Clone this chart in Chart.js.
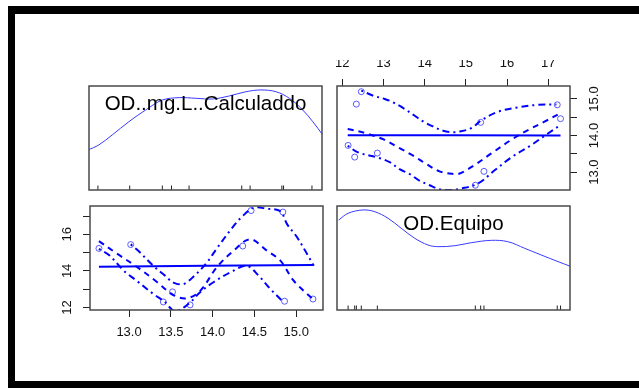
<!DOCTYPE html>
<html><head><meta charset="utf-8">
<script src="https://cdn.jsdelivr.net/npm/chart.js@4.4.1/dist/chart.umd.min.js"></script>
<style>
html,body{margin:0;padding:0;background:#fff;width:639px;height:388px;overflow:hidden;}
#frame{position:absolute;left:8px;top:6px;width:631px;height:382px;box-sizing:border-box;border-left:7px solid #000;border-top:8px solid #000;border-bottom:7px solid #000;}
canvas{position:absolute;left:0;top:0;}
</style></head><body>
<div id="frame"></div>
<canvas id="tl" width="639" height="388"></canvas>
<canvas id="tr" width="639" height="388"></canvas>
<canvas id="bl" width="639" height="388"></canvas>
<canvas id="br" width="639" height="388"></canvas>
<script>
// ---------- data ----------
const varNames = ['OD..mg.L..Calculaddo', 'OD.Equipo'];
const odCalculado = [12.64, 13.02, 13.52, 13.41, 13.73, 14.36, 14.46, 14.84, 14.86, 15.20];
const odEquipo    = [15.23, 15.44, 12.85, 12.30, 12.14, 15.36, 17.30, 17.22, 12.34, 12.46];

// density estimates (relative height) on the diagonal
const densCalcX = [12.52,12.65,12.81,13.01,13.21,13.41,13.61,13.81,14.01,14.21,14.41,14.59,14.77,14.93,15.09,15.21,15.33];
const densCalcY = [0.385,0.433,0.529,0.657,0.769,0.865,0.888,0.882,0.875,0.904,0.945,0.962,0.945,0.882,0.769,0.657,0.529];
const densEqX = [11.91,12.14,12.50,12.79,13.11,13.43,13.76,14.08,14.32,14.73,15.13,15.62,16.02,16.43,16.83,17.24,17.56];
const densEqY = [0.865,0.930,0.962,0.945,0.882,0.786,0.689,0.625,0.609,0.618,0.647,0.670,0.657,0.593,0.529,0.465,0.417];

// top-right panel: x = OD.Equipo, y = OD calculado
const regTRX = [12.13, 17.30];
const regTRY = [14.01, 14.00];
const smoothTRX = [12.13,12.58,13.03,13.35,13.72,14.04,14.36,14.69,14.85,15.21,15.62,16.10,16.51,16.91,17.30];
const smoothTRY = [14.18,14.06,13.88,13.68,13.45,13.22,13.02,12.95,12.96,13.19,13.51,13.88,14.15,14.38,14.61];
const upperTRX = [12.46,12.75,13.03,13.23,13.51,13.76,14.00,14.20,14.45,14.69,14.81,15.13,15.38,15.78,16.27,16.75,17.20];
const upperTRY = [15.23,15.09,15.00,14.91,14.73,14.54,14.36,14.25,14.13,14.09,14.10,14.20,14.42,14.65,14.77,14.84,14.85];
const lowerTRX = [12.13,12.38,12.91,13.15,13.39,13.63,13.88,14.12,14.36,14.61,14.89,15.30,15.70,16.10,16.59,16.91,17.30];
const lowerTRY = [13.72,13.54,13.38,13.27,13.08,12.95,12.76,12.64,12.53,12.51,12.55,12.69,13.05,13.40,13.74,13.99,14.29];

// bottom-left panel: x = OD calculado, y = OD.Equipo
const regBLX = [12.64, 15.20];
const regBLY = [14.23, 14.32];
const smoothBLX = [12.64,12.85,13.09,13.33,13.53,13.69,13.85,14.05,14.25,14.45,14.65,14.81,14.97,15.20];
const smoothBLY = [15.63,14.96,14.23,13.41,12.68,12.50,12.90,14.20,15.10,15.73,15.10,14.56,13.46,12.45];
const upperBLX = [13.02,13.11,13.29,13.43,13.53,13.65,13.77,13.93,14.05,14.23,14.35,14.49,14.65,14.81,14.89,15.01,15.13,15.21];
const upperBLY = [15.45,15.10,14.28,13.74,13.36,13.28,13.68,14.45,15.23,16.33,16.96,17.45,17.40,17.26,16.56,15.84,14.92,14.28];
const lowerBLX = [12.64,12.76,12.94,13.08,13.29,13.42,13.55,13.71,13.85,14.01,14.25,14.41,14.55,14.69,14.83];
const lowerBLY = [15.20,14.87,14.00,13.50,12.74,12.33,11.80,12.19,12.83,13.38,14.01,14.28,13.74,13.01,12.37];

// axis ticks
const ticksEqTop = [12, 13, 14, 15, 16, 17];
const ticksCalcRight = [13.0, 13.5, 14.0, 14.5, 15.0];
const labelsCalcRight = ['13.0', '', '14.0', '', '15.0'];
const ticksEqLeft = [12, 13, 14, 15, 16, 17];
const labelsEqLeft = ['12', '', '14', '', '16', ''];
const ticksCalcBottom = [13.0, 13.5, 14.0, 14.5, 15.0];
const labelsCalcBottom = ['13.0', '13.5', '14.0', '14.5', '15.0'];

// ---------- helpers ----------
const FONT = "'Liberation Sans', Arial, sans-serif";
Chart.defaults.font.family = FONT;
Chart.defaults.font.size = 13;
Chart.defaults.color = '#111';

const BLUE = '#0000ff';
const PT = 'rgba(40,40,255,0.75)';
const zip = (xs, ys) => xs.map((x, i) => ({x, y: ys[i]}));

function hidden(min, max) { return {type: 'linear', display: false, min, max}; }
function shown(pos, min, max, vals, labels, size, pad) {
  const vertical = pos === 'left' || pos === 'right';
  return {
    type: 'linear', position: pos, min, max,
    afterBuildTicks: s => { s.ticks = vals.map(v => ({value: v})); },
    afterFit: s => { if (vertical) s.width = size; else s.height = size; },
    grid: {drawOnChartArea: false, drawTicks: true, tickLength: 7, tickColor: '#222', lineWidth: 1},
    border: {display: false},
    ticks: {
      autoSkip: false, padding: pad,
      minRotation: vertical ? 90 : 0, maxRotation: vertical ? 90 : 0,
      crossAlign: vertical ? 'center' : 'near',
      callback: (v, i) => labels[i], color: '#111', font: {size: 13}
    }
  };
}
const boxPlugin = {
  id: 'box',
  afterDatasetsDraw(chart, args, opts) {
    const a = chart.chartArea, ctx = chart.ctx;
    if (opts.label) {
      ctx.save();
      ctx.font = '20.5px ' + FONT;
      ctx.fillStyle = '#000';
      ctx.textAlign = 'center';
      ctx.textBaseline = 'middle';
      ctx.fillText(opts.label, (a.left + a.right) / 2, a.top + 18);
      ctx.restore();
    }
    ctx.save();
    ctx.strokeStyle = '#4a4a4a';
    ctx.lineWidth = 1.5;
    ctx.strokeRect(a.left, a.top, a.right - a.left, a.bottom - a.top);
    ctx.restore();
  }
};
function lineDs(xs, ys, dash, width, color) {
  return {data: zip(xs, ys), showLine: true, pointRadius: 0, borderColor: color || BLUE,
          borderWidth: width || 2, borderDash: dash || [], tension: 0.35, clip: 0, fill: false};
}
function pointsDs(xs, ys) {
  return {data: zip(xs, ys), showLine: false, pointRadius: 3, pointStyle: 'circle',
          borderColor: PT, backgroundColor: 'rgba(0,0,0,0)', borderWidth: 1, clip: 0};
}
function rugDs(xs, yv) {
  return {data: xs.map(x => ({x, y: yv})), showLine: false, pointStyle: 'line', rotation: 90,
          pointRadius: 2.2, borderColor: '#222', borderWidth: 1, clip: 0};
}
function make(id, datasets, scales, padding, label) {
  new Chart(document.getElementById(id), {
    type: 'scatter',
    data: {datasets},
    options: {
      responsive: false, animation: false, devicePixelRatio: 1,
      layout: {padding},
      scales,
      plugins: {legend: {display: false}, tooltip: {enabled: false}, box: {label}}
    },
    plugins: [boxPlugin]
  });
}

const DASH = [6, 5];
const DOTDASH = [2, 4, 7, 4];

// top-left: density of OD calculado
make('tl', [
  lineDs(densCalcX, densCalcY, [], 1, '#3a3aff'),
  rugDs(odCalculado, 0.022)
], {x: hidden(12.533, 15.32), y: hidden(0, 1)},
  {left: 89, top: 86, right: 639 - 322, bottom: 388 - 190}, varNames[0]);

// top-right: OD calculado vs OD.Equipo
make('tr', [
  lineDs(regTRX, regTRY, [], 2),
  lineDs(smoothTRX, smoothTRY, DASH, 2),
  lineDs(upperTRX, upperTRY, DOTDASH, 2),
  lineDs(lowerTRX, lowerTRY, DOTDASH, 2),
  pointsDs(odEquipo, odCalculado)
], {
  x: shown('top', 11.87, 17.53, ticksEqTop, ticksEqTop.map(String), 26, 8),
  y: shown('right', 12.51, 15.355, ticksCalcRight, labelsCalcRight, 32, 5)
}, {left: 337, top: 60, right: 37, bottom: 388 - 190});

// bottom-left: OD.Equipo vs OD calculado
make('bl', [
  lineDs(regBLX, regBLY, [], 2),
  lineDs(smoothBLX, smoothBLY, DASH, 2),
  lineDs(upperBLX, upperBLY, DOTDASH, 2),
  lineDs(lowerBLX, lowerBLY, DOTDASH, 2),
  pointsDs(odCalculado, odEquipo)
], {
  x: shown('bottom', 12.533, 15.32, ticksCalcBottom, labelsCalcBottom, 30, 8),
  y: shown('left', 11.86, 17.55, ticksEqLeft, labelsEqLeft, 30, 8)
}, {left: 60, top: 206, right: 639 - 323, bottom: 48});

// bottom-right: density of OD.Equipo
make('br', [
  lineDs(densEqX, densEqY, [], 1, '#3a3aff'),
  rugDs(odEquipo, 0.022)
], {x: hidden(11.87, 17.53), y: hidden(0, 1)},
  {left: 337, top: 206, right: 639 - 570, bottom: 388 - 310}, varNames[1]);
</script>
</body></html>
